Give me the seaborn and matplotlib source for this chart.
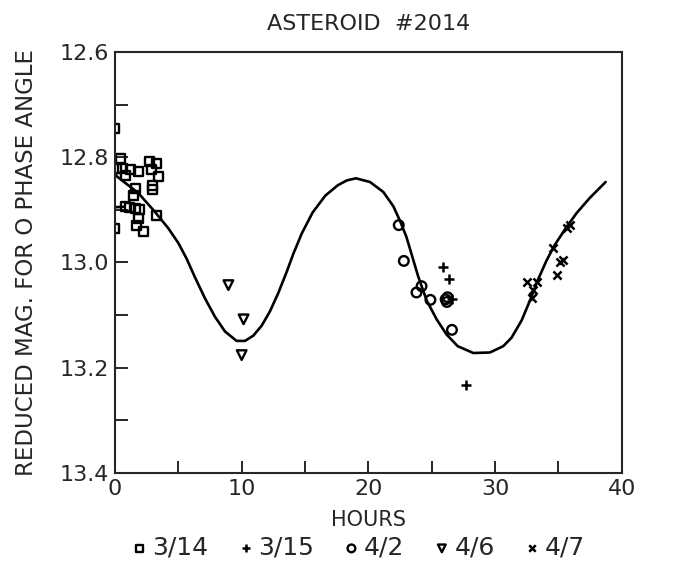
import numpy as np
import pandas as pd
import matplotlib
matplotlib.use("Agg")
import matplotlib.pyplot as plt
import seaborn as sns

hours_0314 = [0.0, 0.4, 0.1, 0.6, 1.2, 1.84, 0.8, 2.76, 3.29, 2.9, 3.4, 3.0, 2.97,
              1.58, 1.44, 0.8, 1.18, 1.58, 1.97, 1.84, 2.24, 3.29, 0.0, 1.7]
mag_0314 = [12.745, 12.802, 12.821, 12.821, 12.824, 12.828, 12.834, 12.809, 12.812,
            12.824, 12.837, 12.853, 12.862, 12.859, 12.872, 12.894, 12.895, 12.897,
            12.900, 12.916, 12.942, 12.910, 12.935, 12.929]

hours_0315 = [25.9, 26.4, 26.6, 27.7]
mag_0315 = [13.008, 13.032, 13.070, 13.233]

hours_0402 = [22.4, 22.8, 24.2, 23.8, 24.9, 26.6, 26.1, 26.25, 26.2]
mag_0402 = [12.929, 12.997, 13.045, 13.057, 13.071, 13.128, 13.070, 13.066, 13.075]

hours_0406 = [8.95, 10.15, 10.0]
mag_0406 = [13.043, 13.108, 13.176]

hours_0407 = [35.9, 35.65, 34.6, 35.4, 35.1, 34.9, 32.5, 33.3, 33.0, 32.9]
mag_0407 = [12.929, 12.935, 12.973, 12.995, 12.999, 13.024, 13.037, 13.037, 13.052, 13.068]

# fitted curve
fit_hours = [0.0, 0.13, 1.84, 3.16, 4.21, 5.0, 5.66, 6.31, 7.1, 7.89, 8.68, 9.6,
             10.26, 10.92, 11.58, 12.23, 12.89, 13.55, 14.07, 14.74, 15.6, 16.6,
             17.6, 18.3, 19.02, 20.13, 21.18, 21.97, 22.5, 23.0, 23.42, 23.94, 24.6,
             25.39, 26.18, 27.05, 28.28, 29.6, 30.65, 31.3, 32.1, 32.76, 33.4, 34.07,
             34.73, 35.52, 36.44, 37.49, 38.73]
fit_mag = [12.830, 12.836, 12.868, 12.904, 12.935, 12.963, 12.993, 13.028, 13.068,
           13.103, 13.131, 13.149, 13.149, 13.139, 13.120, 13.093, 13.058, 13.018,
           12.984, 12.945, 12.905, 12.873, 12.853, 12.844, 12.840, 12.847, 12.866,
           12.893, 12.921, 12.951, 12.985, 13.027, 13.072, 13.108, 13.137, 13.159,
           13.172, 13.171, 13.159, 13.143, 13.110, 13.072, 13.032, 12.996, 12.966,
           12.937, 12.906, 12.877, 12.847]
stub_hours = [0.0, 0.7]
stub_mag = [12.895, 12.894]

sns.set_style("ticks")
plt.rcParams['font.family'] = ['DejaVu Sans']

fig = plt.figure(figsize=(6.78, 5.78), dpi=100)
ax = fig.add_axes([0.1696, 0.1817, 0.7474, 0.7283])

sns.lineplot(x=fit_hours, y=fit_mag, sort=False, estimator=None, color="black",
             linewidth=1.9, ax=ax)
sns.lineplot(x=stub_hours, y=stub_mag, sort=False, estimator=None, color="black",
             linewidth=1.9, ax=ax)

hollow = dict(facecolor="none", edgecolor="black", linewidth=1.7)
sns.scatterplot(x=hours_0314, y=mag_0314, marker="s", s=42, label="3/14", ax=ax, **hollow)
sns.scatterplot(x=hours_0315, y=mag_0315, marker="+", s=55, color="black",
                linewidth=1.8, label="3/15", ax=ax)
sns.scatterplot(x=hours_0402, y=mag_0402, marker="o", s=48, label="4/2", ax=ax, **hollow)
sns.scatterplot(x=hours_0406, y=mag_0406, marker="v", s=48, label="4/6", ax=ax, **hollow)
sns.scatterplot(x=hours_0407, y=mag_0407, marker="x", s=34, color="black",
                linewidth=1.8, label="4/7", ax=ax)

ax.set_xlim(0, 40)
ax.set_ylim(13.4, 12.6)
ax.set_xticks([0, 10, 20, 30, 40])
ax.set_xticks([5, 15, 25, 35], minor=True)
ax.set_yticks([12.6, 12.8, 13.0, 13.2, 13.4])
ax.set_yticklabels(["12.6", "12.8", "13.0", "13.2", "13.4"])
ax.set_yticks([12.7, 12.9, 13.1, 13.3], minor=True)
ax.tick_params(which="both", direction="in", length=9, width=1.4, labelsize=16,
               pad=4, top=False, right=False)
for sp in ax.spines.values():
    sp.set_linewidth(1.5)
    sp.set_visible(True)

ax.set_xlabel("HOURS", fontsize=15, labelpad=8)
ax.set_ylabel("REDUCED MAG. FOR O PHASE ANGLE", fontsize=16.5, labelpad=16)
ax.set_title("ASTEROID  #2014", fontsize=16, pad=16)

ax.get_legend().remove()
handles, labels = ax.get_legend_handles_labels()
fig.legend(handles, labels, loc="center", bbox_to_anchor=(0.525, 0.052), ncol=5,
           frameon=False, fontsize=18, handletextpad=0.0, columnspacing=1.0,
           handlelength=1.0, markerscale=0.8)

fig.savefig("out.png", dpi=100)
